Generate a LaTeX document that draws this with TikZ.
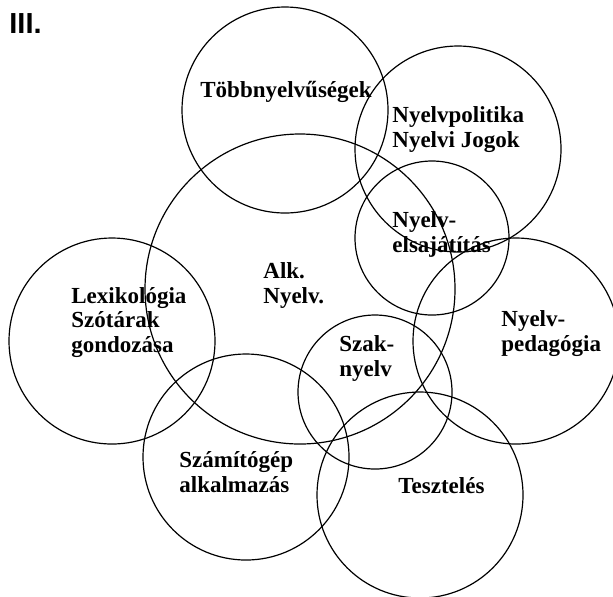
\documentclass[tikz,border=0pt]{standalone}
\usepackage{fontspec}
\setmainfont{Liberation Serif}
\newfontfamily\headfont{Liberation Sans}
\tikzset{
  ring/.style={line width=0.6pt},
  lbl/.style={font=\bfseries\fontsize{11.5}{12.1}\selectfont,align=left,inner sep=0pt,anchor=base west}
}
\begin{document}
\begin{tikzpicture}[x=0.5pt,y=-0.5pt]
			\useasboundingbox (0,0) rectangle (613,596);
			% circle centres
			\path (285,110) coordinate (Tob)
			(458,149) coordinate (Pol)
			(300,289) coordinate (Alk)
			(432,238) coordinate (Els)
			(112,341) coordinate (Lex)
			(516,341) coordinate (Ped)
			(375,392) coordinate (Szk)
			(246,457) coordinate (Szm)
			(420,495) coordinate (Tes);
			\foreach \c/\r in {Tob/103,Pol/103,Alk/155,Els/77,Lex/103,Ped/103,Szk/77,Szm/103,Tes/103}{
				\draw[ring] (\c) circle (\r);
			}
			% labels, placed at the baseline of their last line
			\node[anchor=base west,inner sep=0pt,font=\headfont\bfseries\fontsize{14.5}{16}\selectfont] (head) at (9,33) {III.};
			\node[lbl] (tob) at (200,97) {Többnyelvűségek};
			\node[lbl] (pol) at (392,147) {Nyelvpolitika\\Nyelvi Jogok};
			\node[lbl] (els) at (392,252) {Nyelv-\\elsajátítás};
			\node[lbl] (alk) at (263,303) {Alk.\\Nyelv.};
			\node[lbl] (lex) at (71,352) {Lexikológia\\Szótárak\\gondozása};
			\node[lbl] (ped) at (501,351) {Nyelv-\\pedagógia};
			\node[lbl] (szk) at (339,376) {Szak-\\nyelv};
			\node[lbl] (szm) at (179,492) {Számítógép\\alkalmazás};
			\node[lbl] (tes) at (398,493) {Tesztelés};
	\end{tikzpicture}
\end{document}
